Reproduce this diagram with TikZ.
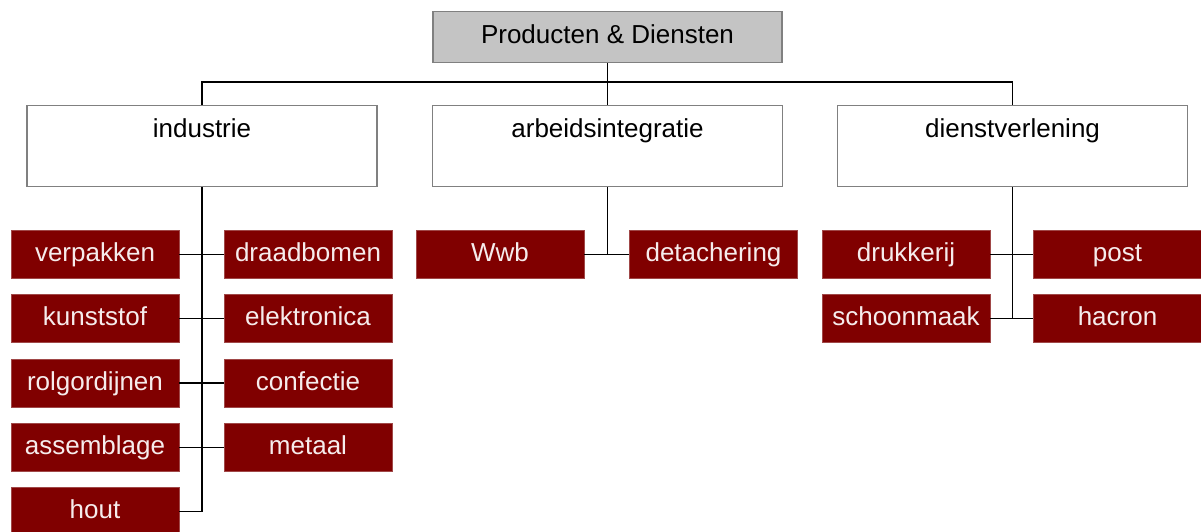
\documentclass[tikz,border=0pt]{standalone}
\usepackage{fontspec}
\setmainfont{Liberation Sans}
\usepackage{tikz}

\definecolor{donkerrood}{HTML}{800000}
\definecolor{roodrand}{HTML}{A04848}
\definecolor{lichttekst}{HTML}{F6ECEC}
\definecolor{grijsvlak}{HTML}{C4C4C4}

\tikzset{
  hoofd/.style={draw=gray, line width=1.2pt, fill=grijsvlak, minimum width=349pt, inner xsep=0pt, inner ysep=0pt, text height=32pt, text depth=19pt, anchor=north},
  tak/.style={draw=gray, line width=1.2pt, fill=white, minimum width=350pt, inner xsep=0pt, inner ysep=0pt, text height=32pt, text depth=49pt, anchor=north},
  blok/.style={draw=roodrand, line width=0.8pt, fill=donkerrood, text=lichttekst, minimum width=168pt, inner xsep=0pt, inner ysep=0pt, text height=31pt, text depth=17pt, anchor=north},
  lijn/.style={black, line width=1.4pt}
}

\begin{document}
\begin{tikzpicture}[x=1pt, y=-1pt, font=\fontsize{26}{30}\selectfont]
            \useasboundingbox (0,0) rectangle (1201,531);

            % Hoofdblok
            \node[hoofd] (prod) at (607.5, 11) {Producten \& Diensten};

            % Takken
            \node[tak] (ind) at (202, 105) {industrie};
            \node[tak] (arb) at (607.5, 105) {arbeidsintegratie};
            \node[tak] (dien) at (1012.5, 105) {dienstverlening};

            % Industrie
            \node[blok] (verpakken) at (95, 230) {verpakken};
            \node[blok] (draadbomen) at (308, 230) {draadbomen};
            \node[blok] (kunststof) at (95, 294.3) {kunststof};
            \node[blok] (elektronica) at (308, 294.3) {elektronica};
            \node[blok] (rolgordijnen) at (95, 358.6) {rolgordijnen};
            \node[blok] (confectie) at (308, 358.6) {confectie};
            \node[blok] (assemblage) at (95, 423) {assemblage};
            \node[blok] (metaal) at (308, 423) {metaal};
            \node[blok] (hout) at (95, 487) {hout};

            % Arbeidsintegratie
            \node[blok] (wwb) at (500, 230) {Wwb};
            \node[blok] (detachering) at (713.5, 230) {detachering};

            % Dienstverlening
            \node[blok] (drukkerij) at (906, 230) {drukkerij};
            \node[blok] (post) at (1117.5, 230) {post};
            \node[blok] (schoonmaak) at (906, 294.3) {schoonmaak};
            \node[blok] (hacron) at (1117.5, 294.3) {hacron};

            % Lijnen bovenaan
            \coordinate (splits) at (607.5, 82);
            \draw[lijn] (prod.south) -- (arb.north);
            \draw[lijn] (ind.north) |- (splits) -| (dien.north);

            % Lijnen industrie
            \draw[lijn] (ind.south) -- (ind.south |- hout.east) -- (hout.east);
            \draw[lijn] (verpakken.east) -- (draadbomen.west);
            \draw[lijn] (kunststof.east) -- (elektronica.west);
            \draw[lijn] (rolgordijnen.east) -- (confectie.west);
            \draw[lijn] (assemblage.east) -- (metaal.west);

            % Lijnen arbeidsintegratie
            \draw[lijn] (arb.south) -- (arb.south |- wwb.east);
            \draw[lijn] (wwb.east) -- (detachering.west);

            % Lijnen dienstverlening
            \draw[lijn] (dien.south) -- (dien.south |- hacron.west);
            \draw[lijn] (drukkerij.east) -- (post.west);
            \draw[lijn] (schoonmaak.east) -- (hacron.west);
        \end{tikzpicture}
\end{document}
